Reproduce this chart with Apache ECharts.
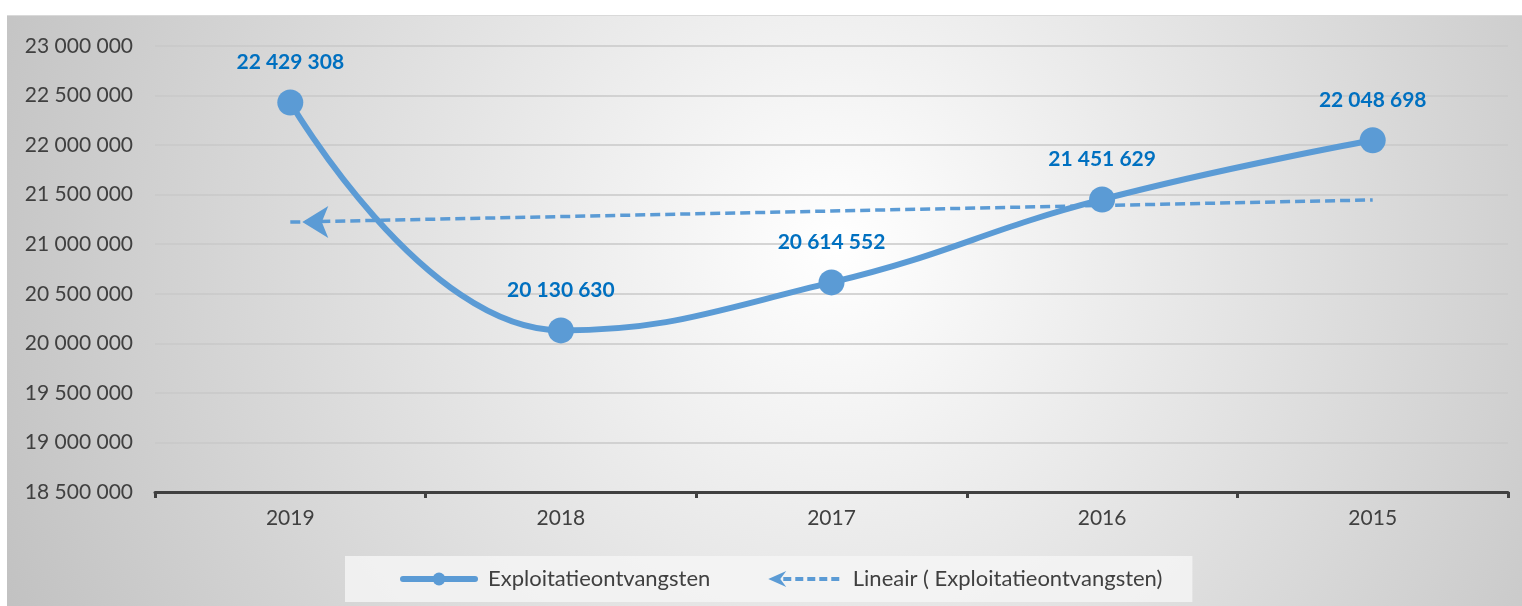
<!DOCTYPE html>
<html>
<head>
<meta charset="utf-8">
<script src="https://cdn.jsdelivr.net/npm/echarts@6/dist/echarts.min.js"></script>
<style>
  html, body { margin: 0; padding: 0; background: #fff; }
  #main { position: absolute; left: 7px; top: 15px; width: 1515px; height: 591px; border-top: 1px solid #d9d9d9; box-sizing: border-box; }
</style>
</head>
<body>
<div id="main"></div>
<script>
var years = ['2019', '2018', '2017', '2016', '2015'];
var revenue = [22429308, 20130630, 20614552, 21451629, 22048698];
// linear trend
var trend = [21223000, 21279000, 21335000, 21391000, 21447000];
var yMin = 18500000, yMax = 23000000, yStep = 500000;

function fmt(v) {
    return String(v).replace(/\B(?=(\d{3})+(?!\d))/g, ' ');
}

var myChart = echarts.init(document.getElementById('main'));

var trendData = trend.map(function (v, i) {
    if (i === 0) {
        return { value: v, symbol: 'arrow', symbolSize: [24, 26], symbolRotate: 90, symbolOffset: [12, 0] };
    }
    return { value: v, symbol: 'none' };
});

var arrowIcon = 'path://M0,8L18,0L12,8L18,16Z' +
    'M15,6h8v4h-8Z M27,6h8v4h-8Z M39,6h8v4h-8Z M51,6h8v4h-8Z M63,6h8v4h-8Z';

var option = {
    animation: false,
    backgroundColor: {
        type: 'radial', x: 830, y: 230, r: 900, global: true,
        colorStops: [
            { offset: 0, color: '#ffffff' },
            { offset: 1, color: '#c2c2c2' }
        ]
    },
    textStyle: { fontFamily: 'Lato' },
    grid: { left: 148, right: 14, top: 30, bottom: 114 },
    legend: {
        left: 338,
        top: 540,
        backgroundColor: 'rgba(245,245,245,0.85)',
        padding: [12, 30, 12, 55],
        itemGap: 58,
        itemWidth: 72,
        itemHeight: 16,
        textStyle: { fontSize: 22, color: '#404040', fontFamily: 'Lato', padding: [0, 0, 0, 8] },
        data: [
            { name: 'Exploitatieontvangsten', lineStyle: { width: 6, cap: 'round' } },
            { name: 'Lineair ( Exploitatieontvangsten)', icon: arrowIcon }
        ]
    },
    xAxis: {
        type: 'category',
        data: years,
        boundaryGap: true,
        axisLine: { lineStyle: { color: '#404040', width: 3 } },
        axisTick: { show: true, length: 6, lineStyle: { color: '#404040', width: 3 } },
        axisLabel: { fontSize: 21, color: '#404040', margin: 16 }
    },
    yAxis: {
        type: 'value',
        min: yMin,
        max: yMax,
        interval: yStep,
        axisLine: { show: false },
        axisTick: { show: false },
        axisLabel: { fontSize: 21, color: '#404040', margin: 22, formatter: fmt },
        splitLine: { lineStyle: { color: '#c8c8c8', width: 1.5 } }
    },
    series: [
        {
            name: 'Exploitatieontvangsten',
            type: 'line',
            data: revenue,
            smooth: 0.45,
            symbol: 'circle',
            symbolSize: 26,
            lineStyle: { color: '#5B9BD5', width: 6 },
            itemStyle: { color: '#5B9BD5' },
            label: {
                show: true,
                position: 'top',
                distance: 17,
                color: '#0070C0',
                fontWeight: 'bold',
                fontSize: 21,
                fontFamily: 'Lato',
                formatter: function (p) { return fmt(p.value); }
            },
            z: 3
        },
        {
            name: 'Lineair ( Exploitatieontvangsten)',
            type: 'line',
            data: trendData,
            symbol: 'none',
            lineStyle: { color: '#5B9BD5', width: 3.5, type: [10, 5] },
            itemStyle: { color: '#5B9BD5' },
            z: 2
        }
    ]
};

myChart.setOption(option);
</script>
</body>
</html>
